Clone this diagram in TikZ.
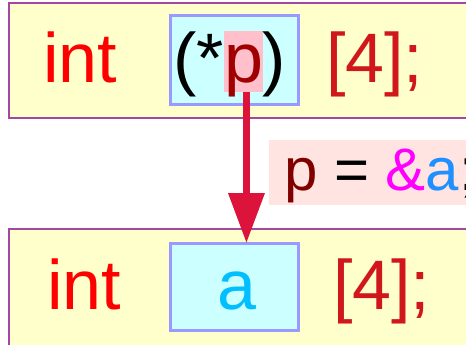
\documentclass[tikz,border=0pt]{standalone}
\usepackage{fontspec}
\setmainfont{Liberation Sans}
\usetikzlibrary{arrows.meta, positioning}
\definecolor{declyellow}{HTML}{FFFFCC}
\definecolor{declborder}{HTML}{A347A3}
\definecolor{cellblue}{HTML}{CCFFFF}
\definecolor{cellborder}{HTML}{9999FF}
\definecolor{kwred}{HTML}{FF0000}
\definecolor{dimred}{HTML}{D0181C}
\definecolor{ptrred}{HTML}{A00000}
\definecolor{ptrpink}{HTML}{FFC0CB}
\definecolor{arrowred}{HTML}{DC143C}
\definecolor{assignpink}{HTML}{FFE4E1}
\definecolor{ampmagenta}{HTML}{FF00FF}
\definecolor{varblue}{HTML}{1E90FF}
\definecolor{arrcyan}{HTML}{00BFFF}
\definecolor{darkmaroon}{HTML}{800000}

\begin{document}
\begin{tikzpicture}[x=1pt, y=-1pt,
  every node/.style={inner sep=0pt, outer sep=0pt},
  declbox/.style={rectangle, draw=declborder, fill=declyellow, line width=1.2pt, minimum width=500pt, minimum height=#1, anchor=north west},
  cellbox/.style={rectangle, draw=cellborder, fill=cellblue, line width=3pt, minimum width=128pt, minimum height=#1},
  code/.style={font=\fontsize{70}{82}\selectfont, anchor=base west},
]
\useasboundingbox (0,0) rectangle (466,345);

% top declaration: int (*p) [4];
\node[declbox=115pt] (topdecl) at (9,3) {};
\node[cellbox=88pt] (ptrbox) at (234,60) {};
\node[code, text=kwred] (topint) at (43,83) {int};
\node[code, text=ptrred, fill=ptrpink, text height=52pt, text depth=9pt] (pchar) at (224,83) {p};
\node[code, anchor=base east] (lparen) at (pchar.base west) {(*};
\node[code] (rparen) at (pchar.base east) {)};
\node[code, text=dimred] (topdim) at (326,83) {[4];};

% bottom declaration: int a [4];
\node[declbox=150pt] (botdecl) at (9,229) {};
\node[cellbox=87pt] (arrbox) at (234,286.5) {};
\node[code, text=kwred] (botint) at (47,309) {int};
\node[code, text=arrcyan] (aname) at (217,309) {a};
\node[code, text=dimred] (botdim) at (333,309) {[4];};

% p points to a
\draw[-{Triangle[length=50pt, width=35pt]}, arrowred, line width=7pt] ([xshift=3pt]pchar.south) -- ([xshift=3pt]pchar.south |- arrbox.north);
\node[anchor=base west, fill=assignpink, inner xsep=15pt, text height=50pt, text depth=15pt, font=\fontsize{60}{72}\selectfont] (assign) at (269,190) {\textcolor{darkmaroon}{p} = \textcolor{ampmagenta}{\&}\textcolor{varblue}{a};};

\end{tikzpicture}
\end{document}
